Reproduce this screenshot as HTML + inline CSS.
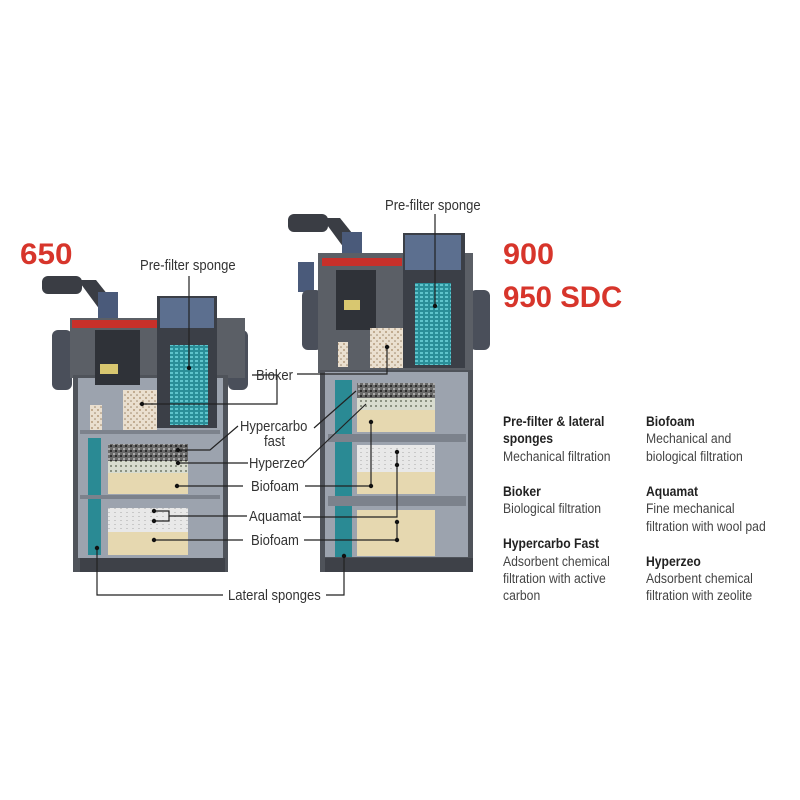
<!DOCTYPE html>
<html><head><meta charset="utf-8"><style>
html,body{margin:0;padding:0;background:#fff}
svg{display:block}
text{font-family:"Liberation Sans",sans-serif}
.l{font-size:14.5px;fill:#333}
.b{font-size:14px;font-weight:bold;fill:#222}
.d{font-size:14px;fill:#444}
.r{font-family:"Liberation Sans",sans-serif;font-weight:bold;font-size:30px;fill:#d7352b}
</style></head><body>
<svg width="800" height="800" viewBox="0 0 800 800" xmlns="http://www.w3.org/2000/svg">
<defs>
<pattern id="cy" width="5" height="4" patternUnits="userSpaceOnUse"><rect width="5" height="4" fill="#2a8e98"/><rect width="3" height="2" fill="#5fc4cc"/></pattern>
<pattern id="bk" width="6" height="6" patternUnits="userSpaceOnUse"><rect width="6" height="6" fill="#eadfcf"/><circle cx="2" cy="2" r="1" fill="#b59c7e"/><circle cx="5" cy="5" r=".8" fill="#9c8468"/></pattern>
<pattern id="hc" width="5" height="5" patternUnits="userSpaceOnUse"><rect width="5" height="5" fill="#6a6a6a"/><rect width="2" height="2" fill="#2e2e2e"/><rect x="3" y="3" width="2" height="2" fill="#aaa"/></pattern>
<pattern id="hz" width="5" height="5" patternUnits="userSpaceOnUse"><rect width="5" height="5" fill="#d8dccf"/><rect width="2" height="2" fill="#8c9282"/></pattern>
<pattern id="aq" width="6" height="4" patternUnits="userSpaceOnUse"><rect width="6" height="4" fill="#e8e8e8"/><rect width="2" height="1" fill="#c8c8c8"/></pattern>
</defs>

<text class="r" transform="translate(20,264) scale(1.05,1)">650</text>
<text class="r" transform="translate(503,264) scale(1.02,1)">900</text>
<text class="r" transform="translate(503,307) scale(.98,1)">950 SDC</text>

<!-- LEFT FILTER -->
<g>
<rect x="42" y="276" width="40" height="18" rx="6" fill="#3a3d44"/>
<path d="M78,280 L96,280 L112,300 L100,310 Z" fill="#3a3d44"/>
<rect x="98" y="292" width="20" height="60" fill="#4a5a7a"/>
<rect x="52" y="330" width="20" height="60" rx="6" fill="#4a4f5a"/>
<rect x="228" y="330" width="20" height="60" rx="6" fill="#4a4f5a"/>
<rect x="70" y="318" width="175" height="60" fill="#5b5f66"/>
<rect x="72" y="320" width="88" height="8" fill="#c8302a"/>
<rect x="73" y="375" width="155" height="197" fill="#4f535a"/>
<rect x="78" y="378" width="145" height="180" fill="#9ca3ae"/>
<rect x="95" y="330" width="45" height="55" fill="#2f3238"/>
<rect x="100" y="364" width="18" height="10" fill="#d8c770"/>
<rect x="157" y="296" width="60" height="132" fill="#3b3f47"/>
<rect x="160" y="298" width="54" height="30" fill="#5c6f8f"/>
<rect x="170" y="345" width="38" height="80" fill="url(#cy)"/>
<rect x="123" y="390" width="34" height="40" fill="url(#bk)"/>
<rect x="90" y="405" width="12" height="25" fill="url(#bk)"/>
<rect x="80" y="430" width="140" height="4" fill="#7c828c"/>
<rect x="88" y="438" width="13" height="117" fill="#2a8a94"/>
<rect x="108" y="444" width="80" height="17" fill="url(#hc)"/>
<rect x="108" y="461" width="80" height="12" fill="url(#hz)"/>
<rect x="108" y="473" width="80" height="21" fill="#e6d8b0"/>
<rect x="80" y="495" width="140" height="4" fill="#7c828c"/>
<rect x="108" y="508" width="80" height="24" fill="url(#aq)"/>
<rect x="108" y="532" width="80" height="23" fill="#e6d8b0"/>
<rect x="80" y="558" width="145" height="14" fill="#3e4148"/>
</g>

<!-- RIGHT FILTER -->
<g>
<rect x="288" y="214" width="40" height="18" rx="6" fill="#3a3d44"/>
<path d="M322,218 L340,218 L356,238 L344,248 Z" fill="#3a3d44"/>
<rect x="342" y="232" width="20" height="60" fill="#4a5a7a"/>
<rect x="298" y="262" width="16" height="30" fill="#4a5a7a"/>
<rect x="302" y="290" width="20" height="60" rx="6" fill="#4a4f5a"/>
<rect x="470" y="290" width="20" height="60" rx="6" fill="#4a4f5a"/>
<rect x="318" y="253" width="155" height="120" fill="#5b5f66"/>
<rect x="322" y="258" width="80" height="8" fill="#c8302a"/>
<rect x="320" y="370" width="153" height="202" fill="#4f535a"/>
<rect x="325" y="372" width="143" height="185" fill="#9ca3ae"/>
<rect x="336" y="270" width="40" height="60" fill="#2f3238"/>
<rect x="344" y="300" width="16" height="10" fill="#d8c770"/>
<rect x="403" y="233" width="62" height="135" fill="#3b3f47"/>
<rect x="405" y="235" width="56" height="35" fill="#5c6f8f"/>
<rect x="415" y="283" width="36" height="82" fill="url(#cy)"/>
<rect x="370" y="328" width="33" height="40" fill="url(#bk)"/>
<rect x="338" y="342" width="10" height="25" fill="url(#bk)"/>
<rect x="335" y="380" width="17" height="177" fill="#2a8a94"/>
<rect x="357" y="383" width="78" height="15" fill="url(#hc)"/>
<rect x="357" y="398" width="78" height="12" fill="url(#hz)"/>
<rect x="357" y="410" width="78" height="22" fill="#e6d8b0"/>
<rect x="328" y="434" width="138" height="8" fill="#7c828c"/>
<rect x="357" y="445" width="78" height="27" fill="url(#aq)"/>
<rect x="357" y="472" width="78" height="22" fill="#e6d8b0"/>
<rect x="328" y="496" width="138" height="10" fill="#7c828c"/>
<rect x="357" y="510" width="78" height="46" fill="#e6d8b0"/>
<rect x="325" y="558" width="148" height="14" fill="#3e4148"/>
</g>

<!-- leader lines -->
<g stroke="#222" stroke-width="1.2" fill="none">
<path d="M189,276 V368"/>
<path d="M435,214 V306"/>
<path d="M252,375 H277 V404 H142"/>
<path d="M297,374 H387 V347"/>
<path d="M238,426 L210,450 H178"/>
<path d="M314,428 L356,391"/>
<path d="M248,463 H178"/>
<path d="M304,463 L366,404"/>
<path d="M243,486 H177"/>
<path d="M305,486 H371 V422"/>
<path d="M247,516 H169 V521 H154 M169,516 V511 H154"/>
<path d="M303,517 H397 V452"/>
<path d="M243,540 H154"/>
<path d="M304,540 H397 V522"/>
<path d="M97,548 V595 H223"/>
<path d="M326,595 H344 V556"/>
</g>
<g fill="#111">
<circle cx="189" cy="368" r="2.2"/><circle cx="435" cy="306" r="2.2"/>
<circle cx="142" cy="404" r="2.2"/><circle cx="387" cy="347" r="2.2"/>
<circle cx="178" cy="450" r="2.2"/><circle cx="178" cy="463" r="2.2"/>
<circle cx="177" cy="486" r="2.2"/><circle cx="371" cy="422" r="2.2"/><circle cx="371" cy="486" r="2.2"/>
<circle cx="154" cy="511" r="2.2"/><circle cx="154" cy="521" r="2.2"/>
<circle cx="397" cy="452" r="2.2"/><circle cx="397" cy="465" r="2.2"/>
<circle cx="154" cy="540" r="2.2"/><circle cx="397" cy="522" r="2.2"/><circle cx="397" cy="540" r="2.2"/>
<circle cx="97" cy="548" r="2.2"/><circle cx="344" cy="556" r="2.2"/>
</g>

<g class="l">
<text transform="translate(140,270) scale(.9,1)">Pre-filter sponge</text>
<text transform="translate(385,210) scale(.9,1)">Pre-filter sponge</text>
<text transform="translate(256,380) scale(.9,1)">Bioker</text>
<text transform="translate(240,431) scale(.9,1)">Hypercarbo</text>
<text transform="translate(264,446) scale(.9,1)">fast</text>
<text transform="translate(249,468) scale(.9,1)">Hyperzeo</text>
<text transform="translate(251,491) scale(.9,1)">Biofoam</text>
<text transform="translate(249,521) scale(.9,1)">Aquamat</text>
<text transform="translate(251,545) scale(.9,1)">Biofoam</text>
<text transform="translate(228,600) scale(.9,1)">Lateral sponges</text>
</g>

<g transform="translate(503,0) scale(.87,1)">
<text class="b" x="0" y="426">Pre-filter &amp; lateral</text>
<text class="b" x="0" y="443">sponges</text>
<text class="d" x="0" y="461">Mechanical filtration</text>
<text class="b" x="0" y="496">Bioker</text>
<text class="d" x="0" y="513">Biological filtration</text>
<text class="b" x="0" y="548">Hypercarbo Fast</text>
<text class="d" x="0" y="566">Adsorbent chemical</text>
<text class="d" x="0" y="583">filtration with active</text>
<text class="d" x="0" y="600">carbon</text>
</g>
<g transform="translate(646,0) scale(.87,1)">
<text class="b" x="0" y="426">Biofoam</text>
<text class="d" x="0" y="443">Mechanical and</text>
<text class="d" x="0" y="461">biological filtration</text>
<text class="b" x="0" y="496">Aquamat</text>
<text class="d" x="0" y="513">Fine mechanical</text>
<text class="d" x="0" y="531">filtration with wool pad</text>
<text class="b" x="0" y="566">Hyperzeo</text>
<text class="d" x="0" y="583">Adsorbent chemical</text>
<text class="d" x="0" y="600">filtration with zeolite</text>
</g>
</svg>
</body></html>
